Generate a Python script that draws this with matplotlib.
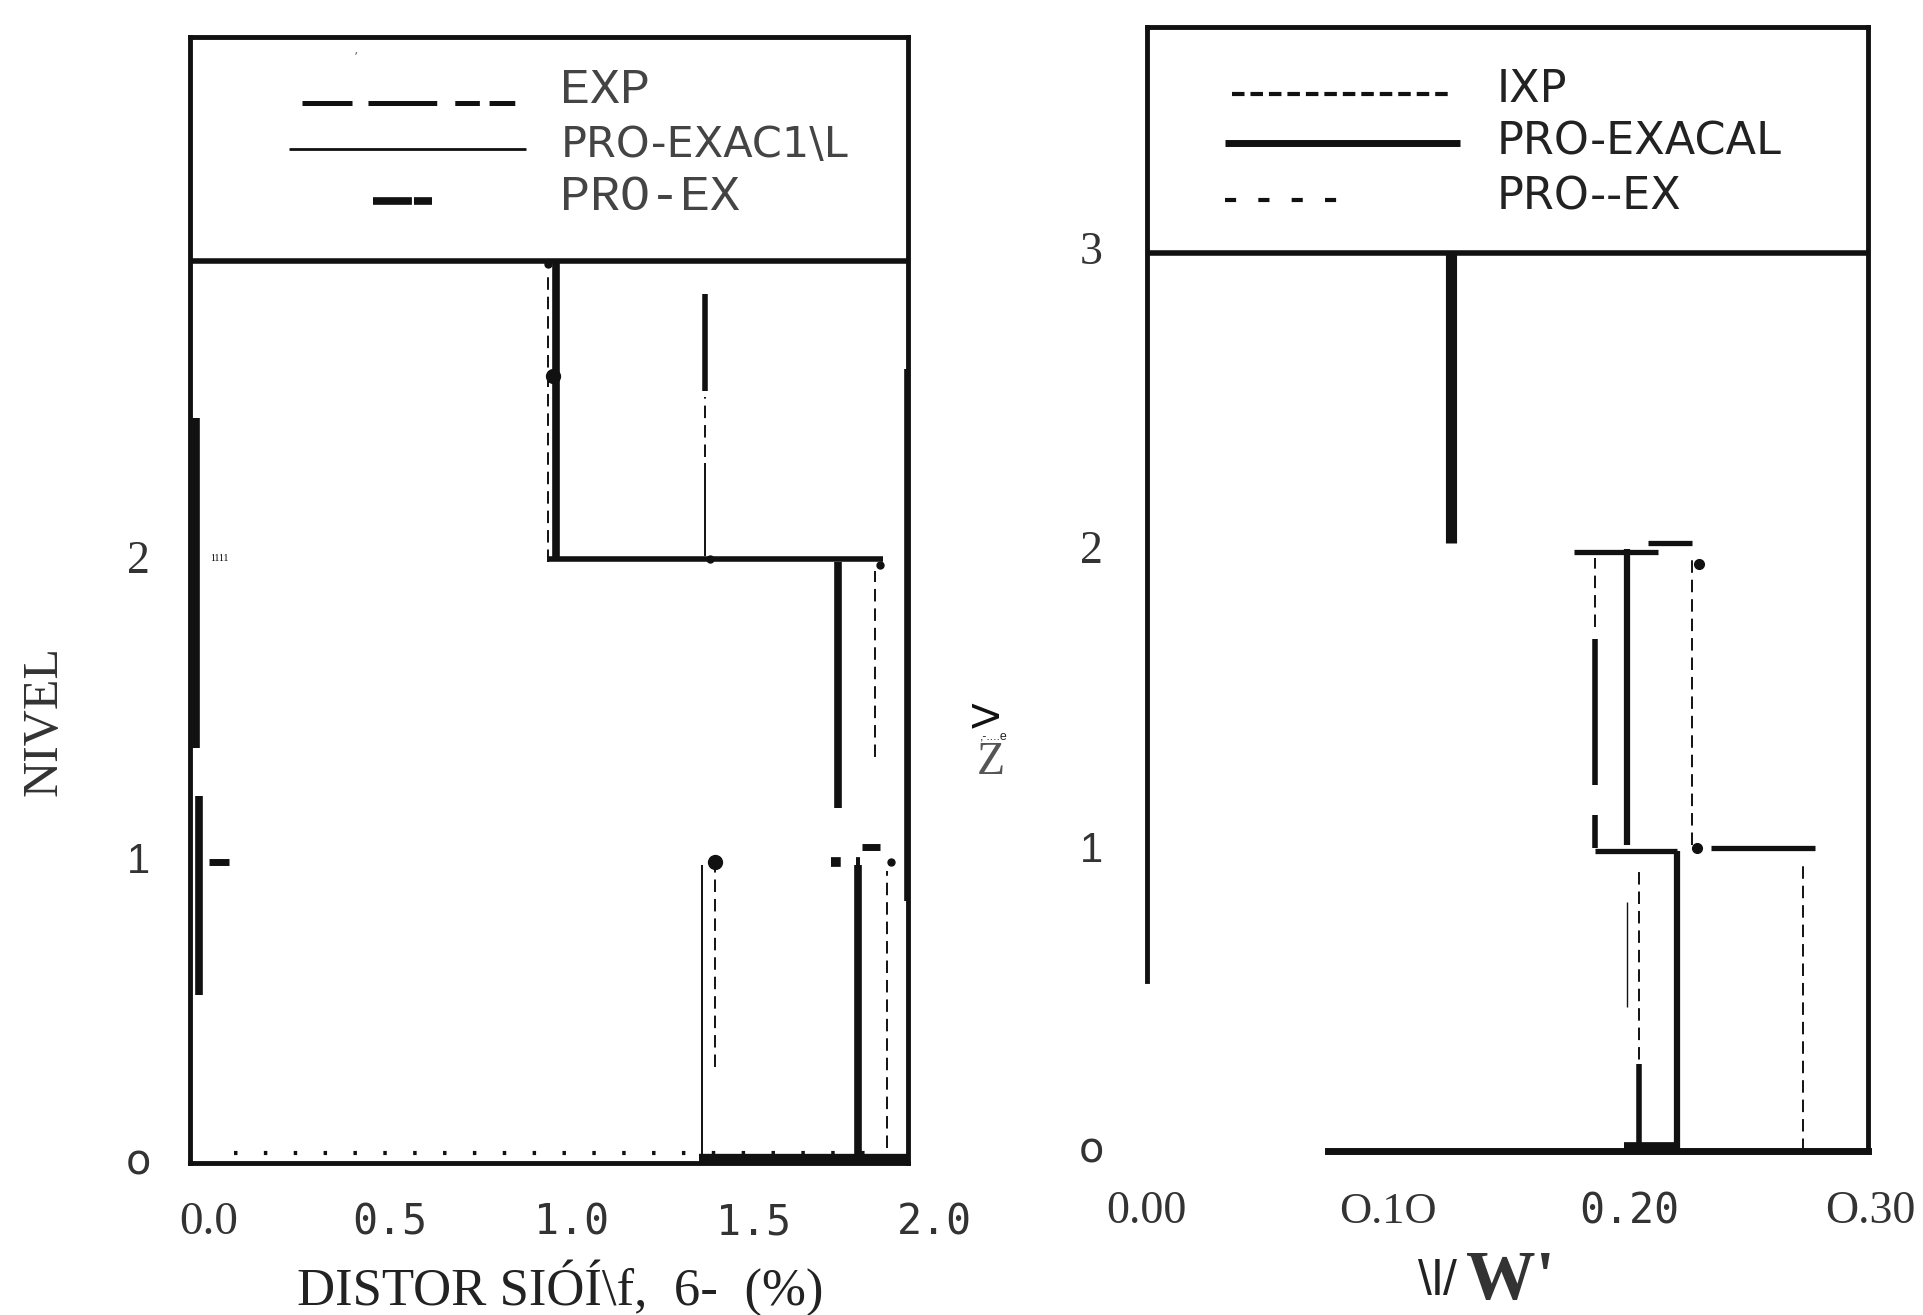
import matplotlib.pyplot as plt

plt.rcParams['lines.scale_dashes'] = False
plt.rcParams['lines.solid_capstyle'] = 'butt'
plt.rcParams['lines.dash_capstyle'] = 'butt'

INK = '#111111'

# ---------------- left panel: storey distortion (%) per level ----------------
# EXP (thin dashed) vertical runs
L_EXP_X = [1.868, 1.835, 0.936, 1.395, 1.368]
L_EXP_LO = [0.05, 1.35, 2.00, 0.32, 2.35]
L_EXP_HI = [0.97, 1.97, 2.95, 0.98, 2.55]
L_EXP_BASE = [0.07, 1.86]          # dotted run along level 0
L_EXP_DOT_X = [0.936, 1.382, 1.850, 1.880]
L_EXP_DOT_Y = [2.99, 2.01, 1.99, 1.00]
L_EXP_BIG_X = [0.949, 1.395]
L_EXP_BIG_Y = [2.62, 1.00]

# PRO-EXACTAL (thin solid)
L_PEXA_X = [1.358, 1.368]
L_PEXA_LO = [0.03, 2.02]
L_PEXA_HI = [0.99, 2.33]
L_PEXA_HEAVY_X = [1.368]
L_PEXA_HEAVY_LO = [2.57]
L_PEXA_HEAVY_HI = [2.89]
L_PEXA_FOOT = [1.35, 1.94]

# PRO-EX (heavy)
L_PEX_X = [1.790, 1.733, 0.956, 1.926, -0.034, -0.027]
L_PEX_LO = [0.03, 1.18, 2.01, 0.87, 1.38, 0.56]
L_PEX_HI = [0.99, 2.00, 3.00, 2.64, 2.48, 1.22]
L_PEX_LEVEL2 = [0.936, 1.858]
L_PEX_LEVEL1 = [1.715, 1.795]
L_PEX_STUB_Y = [1.05, 1.00]
L_PEX_STUB_X0 = [1.800, 0.000]
L_PEX_STUB_X1 = [1.850, 0.057]

# ---------------- right panel: V/W per level ----------------
R_EXP_X = [0.272, 0.226, 0.186, 0.204]
R_EXP_LO = [0.00, 1.02, 1.75, 0.24]
R_EXP_HI = [0.97, 1.98, 1.98, 0.95]
R_EXP_DOT_X = [0.229, 0.228]
R_EXP_DOT_Y = [1.96, 1.01]

R_PEXA_X = [0.220, 0.199]
R_PEXA_LO = [0.00, 1.02]
R_PEXA_HI = [1.00, 2.01]
R_PEXA_HY = [1.00, 1.01, 2.00, 2.03]
R_PEXA_HX0 = [0.186, 0.234, 0.177, 0.208]
R_PEXA_HX1 = [0.220, 0.277, 0.212, 0.226]
R_TOP_X = [0.126]
R_TOP_LO = [2.03]
R_TOP_HI = [3.00]
R_FOOT = [0.198, 0.220]

R_PEX_X = [0.186, 0.186, 0.204]
R_PEX_LO = [1.01, 1.22, 0.00]
R_PEX_HI = [1.12, 1.71, 0.29]
R_PEX_THIN_X = [0.199]
R_PEX_THIN_LO = [0.48]
R_PEX_THIN_HI = [0.83]

# ---------------- tick labels ----------------
L_XTICKS = [0.0, 0.5, 1.0, 1.5, 2.0]
L_XLABELS = ['0.0', '0.5', '1.0', '1.5', '2.0']
L_XFONTS = ['Liberation Serif'] + ['DejaVu Sans Mono'] * 4
L_XSIZES = [34, 30, 30, 30, 30]
L_YTICKS = [0, 1, 2]
L_YLABELS = ['o', '1', '2']
L_YFONTS = ['DejaVu Sans', 'Liberation Sans', 'Liberation Serif']
L_YSIZES = [30, 30, 33]

R_XTICKS = [0.0, 0.1, 0.2, 0.3]
R_XLABELS = ['0.00', 'O.1O', '0.20', 'O.30']
R_XFONTS = ['Liberation Serif', 'Liberation Serif', 'DejaVu Sans Mono', 'Liberation Serif']
R_XSIZES = [33, 32, 30, 33]
R_YTICKS = [0, 1, 2, 3]
R_YLABELS = ['o', '1', '2', '3']
R_YFONTS = ['DejaVu Sans', 'Liberation Sans', 'Liberation Serif', 'Liberation Serif']
R_YSIZES = [30, 30, 33, 33]

L_LEGEND = ['EXP', 'PRO-EXAC1\\L', 'PRO-EX']
L_LEGEND_FONTS = ['Liberation Mono', 'DejaVu Sans', 'Liberation Mono']
R_LEGEND = ['IXP', 'PRO-EXACAL', 'PRO--EX']

EXP_DASH = (0, (9, 5))

fig = plt.figure(figsize=(19.23, 13.15), dpi=100)
axL = fig.add_axes([0.0989, 0.1157, 0.3731, 0.8563])
axR = fig.add_axes([0.5963, 0.1250, 0.3750, 0.8545])

for ax in (axL, axR):
    ax.set_xticks([])
    ax.set_yticks([])
    for s in ax.spines.values():
        s.set_linewidth(3.5)
        s.set_color(INK)
    ax.axhline(3.0, color=INK, lw=4)

axL.set_xlim(-0.051, 1.926)
axL.set_ylim(0, 3.747)
axR.set_xlim(0, 0.299)
axR.set_ylim(0, 3.754)
axR.spines['left'].set_bounds(0.566, 3.754)
axR.spines['bottom'].set_bounds(0.075, 0.299)
axR.spines['bottom'].set_linewidth(5)

# ---- left panel marks ----
axL.vlines(L_EXP_X, L_EXP_LO, L_EXP_HI, color=INK, lw=1.4, linestyles=[EXP_DASH])
axL.hlines(0.033, *L_EXP_BASE, color=INK, lw=3, linestyles=[(0, (2.5, 19))])
axL.plot(L_EXP_DOT_X, L_EXP_DOT_Y, 'o', color=INK, ms=5)
axL.plot(L_EXP_BIG_X, L_EXP_BIG_Y, 'o', color=INK, ms=10)

axL.vlines(L_PEXA_X, L_PEXA_LO, L_PEXA_HI, color=INK, lw=1.4)
axL.vlines(L_PEXA_HEAVY_X, L_PEXA_HEAVY_LO, L_PEXA_HEAVY_HI, color=INK, lw=4)
axL.hlines(0.015, *L_PEXA_FOOT, color=INK, lw=6)

axL.vlines(L_PEX_X, L_PEX_LO, L_PEX_HI, color=INK, lw=5.5)
axL.hlines(2.008, *L_PEX_LEVEL2, color=INK, lw=4)
axL.hlines(1.0, *L_PEX_LEVEL1, color=INK, lw=7, linestyles=[(0, (7, 11))])
axL.hlines(L_PEX_STUB_Y, L_PEX_STUB_X0, L_PEX_STUB_X1, color=INK, lw=5)
axL.text(0.005, 2.01, '1111', fontsize=7, family='Liberation Serif', va='center')

# ---- right panel marks ----
axR.vlines(R_EXP_X, R_EXP_LO, R_EXP_HI, color=INK, lw=1.4, linestyles=[EXP_DASH])
axR.plot(R_EXP_DOT_X, R_EXP_DOT_Y, 'o', color=INK, ms=7)

axR.vlines(R_PEXA_X, R_PEXA_LO, R_PEXA_HI, color=INK, lw=4.5)
axR.hlines(R_PEXA_HY, R_PEXA_HX0, R_PEXA_HX1, color=INK, lw=3.8)
axR.vlines(R_TOP_X, R_TOP_LO, R_TOP_HI, color=INK, lw=8)
axR.hlines(0.012, *R_FOOT, color=INK, lw=7)

axR.vlines(R_PEX_X, R_PEX_LO, R_PEX_HI, color=INK, lw=4)
axR.vlines(R_PEX_THIN_X, R_PEX_THIN_LO, R_PEX_THIN_HI, color=INK, lw=1)


def tick_text(ax, xt, xl, xf, xs, yt, yl, yf, ys, xoff, yoff):
    for v, lab, fam, size in zip(xt, xl, xf, xs):
        ax.annotate(lab, xy=(v, 0), xycoords=('data', 'axes fraction'),
                    xytext=(0, xoff), textcoords='offset points',
                    ha='center', va='center', fontsize=size, family=fam,
                    color='#333333', annotation_clip=False)
    for v, lab, fam, size in zip(yt, yl, yf, ys):
        ax.annotate(lab, xy=(0, v), xycoords=('axes fraction', 'data'),
                    xytext=(yoff, 0), textcoords='offset points',
                    ha='center', va='center', fontsize=size, family=fam,
                    color='#333333', annotation_clip=False)


tick_text(axL, L_XTICKS, L_XLABELS, L_XFONTS, L_XSIZES,
          L_YTICKS, L_YLABELS, L_YFONTS, L_YSIZES, -43, -37)
tick_text(axR, R_XTICKS, R_XLABELS, R_XFONTS, R_XSIZES,
          R_YTICKS, R_YLABELS, R_YFONTS, R_YSIZES, -44, -40)

# ---- legend boxes ----
def key(ax, x0, x1, y, **kw):
    ax.plot([x0, x1], [y, y], transform=ax.transAxes, color=INK,
            clip_on=False, **kw)


key(axL, 0.156, 0.453, 0.941, lw=3.6,
    linestyle=(0, (36, 11.5, 49.5, 13, 17.7, 7, 18.5, 100)))
key(axL, 0.138, 0.468, 0.900, lw=2)
key(axL, 0.255, 0.337, 0.854, lw=5.5, linestyle=(0, (28, 1.5, 14, 100)))
for lab, fam, y in zip(L_LEGEND, L_LEGEND_FONTS, [0.953, 0.904, 0.858]):
    size = 36 if fam == 'Liberation Mono' else 31
    axL.text(0.516, y, lab, transform=axL.transAxes, fontsize=size,
             family=fam, color='#444444', va='center', ha='left')
axL.text(0.231, 0.981, '\u2019', transform=axL.transAxes, fontsize=10,
         color='#777777', ha='center', va='center')

key(axR, 0.119, 0.423, 0.940, lw=3, linestyle=(0, (9, 4.3)))
key(axR, 0.109, 0.434, 0.897, lw=5)
key(axR, 0.109, 0.270, 0.846, lw=3, linestyle=(0, (8, 16)))
for lab, y in zip(R_LEGEND, [0.944, 0.898, 0.849]):
    axR.text(0.485, y, lab, transform=axR.transAxes, fontsize=32,
             family='DejaVu Sans', color='#222222', va='center', ha='left')

# ---- axis titles ----
fig.text(0.023, 0.452, 'NIVEL', rotation=90, fontsize=36,
         family='Liberation Serif', color='#333333', ha='center', va='center')
fig.text(0.2915, 0.0205, 'DISTOR SI\u00d3\u00cd\\f,  6-  (%)', fontsize=38,
         family='Liberation Serif', color='#222222', ha='center', va='center')
fig.text(0.7474, 0.0252, '\\l/', fontsize=36, family='Liberation Sans',
         color='#222222', ha='center', va='center')
fig.text(0.7857, 0.0252, "W'", fontsize=50, family='Liberation Serif',
         fontweight='bold', color='#333333', ha='center', va='center')
fig.text(0.5147, 0.4562, 'V', rotation=90, fontsize=27, family='DejaVu Sans',
         color=INK, ha='center', va='center')
fig.text(0.5166, 0.4403, ',-....e', fontsize=9, family='Liberation Sans',
         color='#222222', ha='center', va='center')
fig.text(0.5153, 0.4198, 'Z', fontsize=33, family='Liberation Serif',
         color='#555555', ha='center', va='center')

fig.savefig('out.png', dpi=100)
